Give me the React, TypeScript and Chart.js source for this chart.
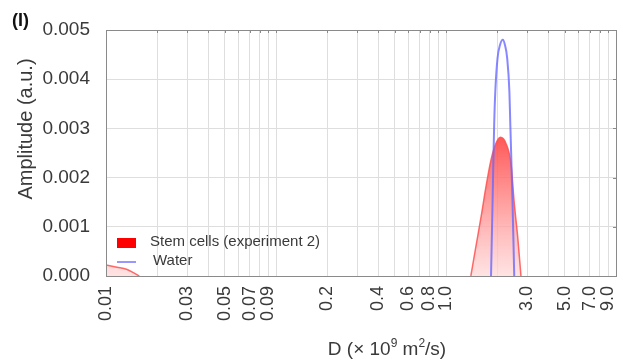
import { useEffect, useRef } from 'react';
import { Chart, registerables } from 'chart.js';

Chart.register(...registerables);

const PANEL_TAG = '(I)';
const Y_TITLE = 'Amplitude (a.u.)';
const STEM_LABEL = 'Stem cells (experiment 2)';
const WATER_LABEL = 'Water';

// Diffusion coefficient D (× 10^9 m²/s) against amplitude (a.u.)
const STEM_TAIL_D = [0.01, 0.0116, 0.0132, 0.0145, 0.0157];
const STEM_TAIL_AMP = [0.000224, 0.000177, 0.000136, 0.000067, 0];
const STEM_PEAK_D = [1.4, 1.5, 1.61, 1.72, 1.84, 1.97, 2.09, 2.25, 2.41, 2.52, 2.64, 2.76];
const STEM_PEAK_AMP = [0, 0.0006, 0.00121, 0.00182, 0.00236, 0.0027, 0.00282, 0.0027, 0.00229, 0.00148, 0.0008, 0];
const WATER_D = [1.84, 1.88, 1.92, 1.95, 2.01, 2.08, 2.16, 2.22, 2.29, 2.36, 2.39, 2.46, 2.52];
const WATER_AMP = [0, 0.00155, 0.00307, 0.00375, 0.00443, 0.0047, 0.0048, 0.0047, 0.00443, 0.00375, 0.00307, 0.00155, 0];

// Log-axis grid lines and the subset of them that carry a label
const X_GRID = [
  0.01, 0.02, 0.03, 0.04, 0.05, 0.06, 0.07, 0.08, 0.09,
  0.1, 0.2, 0.3, 0.4, 0.5, 0.6, 0.7, 0.8, 0.9,
  1, 2, 3, 4, 5, 6, 7, 8, 9, 10,
];
const X_TICK_LABELS = ['0.01', '0.03', '0.05', '0.07', '0.09', '0.2', '0.4', '0.6', '0.8', '1.0', '3.0', '5.0', '7.0', '9.0'];
const Y_TICKS = [0, 0.001, 0.002, 0.003, 0.004, 0.005];

const FONT = '"Liberation Sans", Arial, sans-serif';
const TEXT = '#3a3a3a';
const GRID = '#dedede';
const FRAME = '#8a8a8a';
const RED_LINE = 'rgba(255,80,80,0.85)';
const BLUE_LINE = 'rgba(105,105,255,0.8)';

const toPoints = (xs: number[], ys: number[]) => xs.map((x, i) => ({ x, y: ys[i] }));

const labelFor = (v: number) => {
  const hit = X_TICK_LABELS.find((l) => Math.abs(parseFloat(l) - v) < 1e-9);
  return hit ?? '';
};

const redFill = (context: any) => {
  const { chart } = context;
  const { ctx, chartArea, scales } = chart;
  if (!chartArea || !scales.y) return 'rgba(255,120,120,0.6)';
  const top = scales.y.getPixelForValue(Math.max(...STEM_PEAK_AMP));
  const g = ctx.createLinearGradient(0, top, 0, chartArea.bottom);
  g.addColorStop(0, 'rgba(255,70,70,0.9)');
  g.addColorStop(1, 'rgba(255,218,218,0.75)');
  return g;
};

const decorPlugin = {
  id: 'decor',
  afterDraw(chart: any) {
    const { ctx, chartArea: a, scales } = chart;
    ctx.save();

    // frame around the plot area
    ctx.strokeStyle = FRAME;
    ctx.lineWidth = 1;
    ctx.strokeRect(a.left + 0.5, a.top + 0.5, a.right - a.left, a.bottom - a.top);

    // short inward ticks on the top and right edges
    ctx.beginPath();
    X_GRID.forEach((v) => {
      const px = Math.round(scales.x.getPixelForValue(v)) + 0.5;
      ctx.moveTo(px, a.top);
      ctx.lineTo(px, a.top + 3);
    });
    Y_TICKS.forEach((v) => {
      const py = Math.round(scales.y.getPixelForValue(v)) + 0.5;
      ctx.moveTo(a.right, py);
      ctx.lineTo(a.right - 3, py);
    });
    ctx.stroke();

    // legend
    ctx.fillStyle = '#ff0000';
    ctx.fillRect(117, 238, 19, 10);
    ctx.strokeStyle = 'rgba(140,140,255,0.9)';
    ctx.lineWidth = 2;
    ctx.beginPath();
    ctx.moveTo(117, 262);
    ctx.lineTo(136, 262);
    ctx.stroke();
    ctx.fillStyle = TEXT;
    ctx.font = `15px ${FONT}`;
    ctx.textAlign = 'left';
    ctx.textBaseline = 'middle';
    ctx.fillText(STEM_LABEL, 150, 242);
    ctx.fillText(WATER_LABEL, 153, 261);

    // panel tag
    ctx.fillStyle = '#111';
    ctx.font = `bold 18px ${FONT}`;
    ctx.fillText(PANEL_TAG, 12, 21);

    // y title
    ctx.fillStyle = TEXT;
    ctx.font = `20px ${FONT}`;
    ctx.save();
    ctx.translate(26, 129);
    ctx.rotate(-Math.PI / 2);
    ctx.textAlign = 'center';
    ctx.fillText(Y_TITLE, 0, 0);
    ctx.restore();

    // x title with superscripts
    const parts: [string, boolean][] = [
      ['D (× 10', false],
      ['9', true],
      [' m', false],
      ['2', true],
      ['/s)', false],
    ];
    const big = `19px ${FONT}`;
    const small = `12px ${FONT}`;
    let total = 0;
    parts.forEach(([t, sup]) => {
      ctx.font = sup ? small : big;
      total += ctx.measureText(t).width;
    });
    let x = 387 - total / 2;
    const baseY = 355;
    ctx.textBaseline = 'alphabetic';
    parts.forEach(([t, sup]) => {
      ctx.font = sup ? small : big;
      ctx.fillText(t, x, sup ? baseY - 8 : baseY);
      x += ctx.measureText(t).width;
    });

    ctx.restore();
  },
};

export default function App() {
  const ref = useRef<HTMLCanvasElement | null>(null);

  useEffect(() => {
    if (!ref.current) return;
    Chart.defaults.font.family = FONT;
    const chart = new Chart(ref.current, {
      type: 'line',
      data: {
        datasets: [
          {
            label: WATER_LABEL,
            data: toPoints(WATER_D, WATER_AMP),
            borderColor: BLUE_LINE,
            borderWidth: 2,
            fill: false,
            pointRadius: 0,
            tension: 0.4,
            cubicInterpolationMode: 'monotone',
            order: 1,
          },
          {
            label: STEM_LABEL,
            data: toPoints(STEM_PEAK_D, STEM_PEAK_AMP),
            borderColor: RED_LINE,
            borderWidth: 1.5,
            backgroundColor: redFill,
            fill: 'origin',
            pointRadius: 0,
            tension: 0.4,
            cubicInterpolationMode: 'monotone',
            order: 2,
          },
          {
            label: STEM_LABEL,
            data: toPoints(STEM_TAIL_D, STEM_TAIL_AMP),
            borderColor: RED_LINE,
            borderWidth: 1.5,
            backgroundColor: redFill,
            fill: 'origin',
            pointRadius: 0,
            tension: 0.4,
            cubicInterpolationMode: 'monotone',
            order: 3,
          },
        ],
      },
      options: {
        animation: false,
        responsive: false,
        events: [],
        layout: { padding: { left: 0, top: 30, right: 7, bottom: 0 } },
        plugins: { legend: { display: false }, tooltip: { enabled: false } },
        scales: {
          x: {
            type: 'logarithmic',
            min: 0.01,
            max: 10,
            afterBuildTicks: (s: any) => {
              s.ticks = X_GRID.map((v) => ({ value: v }));
            },
            afterFit: (s: any) => {
              s.height = 84;
              s.paddingLeft = 0;
              s.paddingRight = 0;
            },
            border: { display: false },
            grid: { color: GRID, drawTicks: false, lineWidth: 1 },
            ticks: {
              autoSkip: false,
              minRotation: 90,
              maxRotation: 90,
              padding: 10,
              color: TEXT,
              font: { size: 18, family: FONT },
              callback: (v: any) => labelFor(Number(v)),
            },
          },
          y: {
            type: 'linear',
            min: 0,
            max: 0.005,
            afterBuildTicks: (s: any) => {
              s.ticks = Y_TICKS.map((v) => ({ value: v }));
            },
            afterFit: (s: any) => {
              s.width = 106;
              s.paddingTop = 0;
              s.paddingBottom = 0;
            },
            border: { display: false },
            grid: { color: GRID, drawTicks: false, lineWidth: 1 },
            ticks: {
              padding: 16,
              color: TEXT,
              font: { size: 19, family: FONT },
              callback: (v: any) => Number(v).toFixed(3),
            },
          },
        },
      },
      plugins: [decorPlugin],
    } as any);
    return () => chart.destroy();
  }, []);

  return (
    <div style={{ position: 'absolute', left: 0, top: 0, width: 623, height: 360, background: '#fff' }}>
      <canvas ref={ref} width={623} height={360} />
    </div>
  );
}
